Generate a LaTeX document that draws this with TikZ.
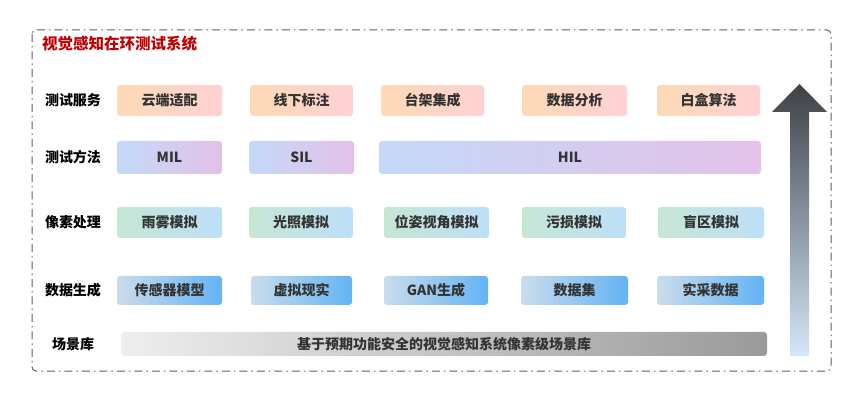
\documentclass[tikz,border=0pt]{standalone}
\usepackage{fontspec}
\newfontfamily\cjk{Noto Sans CJK SC}
\usetikzlibrary{positioning}
\definecolor{txt}{HTML}{333333}
\definecolor{titlered}{HTML}{C00000}
\definecolor{frameg}{HTML}{5E5E5E}
\definecolor{svcL}{HTML}{FDDAB6}
\definecolor{svcR}{HTML}{FFD1D4}
\definecolor{metL}{HTML}{C4D9F8}
\definecolor{metR}{HTML}{E3C1E8}
\definecolor{pixL}{HTML}{C6E6D4}
\definecolor{pixR}{HTML}{BDDFF8}
\definecolor{datL}{HTML}{CADCEB}
\definecolor{datR}{HTML}{63B3F5}
\definecolor{libL}{HTML}{EEEEEE}
\definecolor{libR}{HTML}{9A9A9A}
\definecolor{arrT}{HTML}{3E4145}
\definecolor{arrB}{HTML}{D3E8FA}
\begin{document}
\begin{tikzpicture}[x=1pt,y=-1pt,
  box/.style={rounded corners=3pt, inner sep=0pt, text=txt,
    font=\cjk\bfseries\fontsize{14}{16}\selectfont},
  svc/.style={box, left color=svcL, right color=svcR, minimum height=31pt},
  met/.style={box, left color=metL, right color=metR, minimum height=33pt},
  pix/.style={box, left color=pixL, right color=pixR, minimum height=31pt},
  dat/.style={box, left color=datL, right color=datR, minimum height=29pt},
  lib/.style={box, left color=libL, right color=libR, minimum height=24pt},
  rowlabel/.style={inner sep=0pt, text=black, font=\cjk\bfseries\fontsize{14}{16}\selectfont},
  frame/.style={draw=frameg, line width=1pt, rounded corners=4pt,
    dash pattern=on 8pt off 4pt on 1.5pt off 4pt}
]
\useasboundingbox (0,0) rectangle (865,403);
\draw[frame] (32,30) rectangle (831,371);
\node[anchor=west, inner sep=0pt, text=titlered, font=\cjk\bfseries\fontsize{15.5}{17}\selectfont] (title) at (42,44) {视觉感知在环测试系统};

% row labels
\node[rowlabel] (l1) at (73,100.5) {测试服务};
\node[rowlabel] (l2) at (73,157.5) {测试方法};
\node[rowlabel] (l3) at (73,222.5) {像素处理};
\node[rowlabel] (l4) at (73,290.5) {数据生成};
\node[rowlabel] (l5) at (73,344) {场景库};

% row 1
\node[svc, minimum width=105pt] (s1) at (169.5,100.5) {云端适配};
\node[svc, minimum width=103pt] (s2) at (301.5,100.5) {线下标注};
\node[svc, minimum width=103pt] (s3) at (432.5,100.5) {台架集成};
\node[svc, minimum width=105pt] (s4) at (574.5,100.5) {数据分析};
\node[svc, minimum width=103pt] (s5) at (708.5,100.5) {白盒算法};

% row 2
\node[met, minimum width=105pt] (m1) at (169.5,157.5) {MIL};
\node[met, minimum width=105pt] (m2) at (301.5,157.5) {SIL};
\node[met, minimum width=382pt] (m3) at (570,157.5) {HIL};

% row 3
\node[pix, minimum width=105pt] (p1) at (169.5,222.5) {雨雾模拟};
\node[pix, minimum width=104pt] (p2) at (301,222.5) {光照模拟};
\node[pix, minimum width=105pt] (p3) at (436.5,222.5) {位姿视角模拟};
\node[pix, minimum width=104pt] (p4) at (574,222.5) {污损模拟};
\node[pix, minimum width=106pt] (p5) at (711,222.5) {盲区模拟};

% row 4
\node[dat, minimum width=105pt] (d1) at (169.5,290.5) {传感器模型};
\node[dat, minimum width=101pt] (d2) at (301.5,290.5) {虚拟现实};
\node[dat, minimum width=104pt] (d3) at (436,290.5) {GAN生成};
\node[dat, minimum width=107pt] (d4) at (574.5,290.5) {数据集};
\node[dat, minimum width=107pt] (d5) at (710.5,290.5) {实采数据};

% row 5
\node[lib, minimum width=646pt] (b1) at (444,344) {基于预期功能安全的视觉感知系统像素级场景库};

% arrow
\shade[top color=arrT, bottom color=arrB]
  (790,356) -- (790,112) -- (772,112) -- (799.5,84) -- (827,112) -- (809,112) -- (809,356) -- cycle;
\end{tikzpicture}
\end{document}
